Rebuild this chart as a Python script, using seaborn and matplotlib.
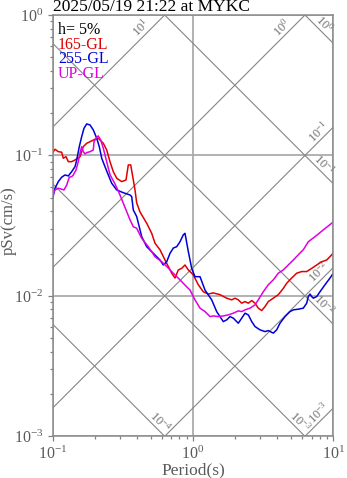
import numpy as np
import pandas as pd
import matplotlib
matplotlib.use("Agg")
import matplotlib.pyplot as plt
from matplotlib.ticker import LogLocator, NullFormatter
import seaborn as sns

# ---- response spectra (pseudo velocity, h = 5 %) ----
period_165 = [0.100, 0.1038, 0.1096, 0.1159, 0.1190, 0.1244, 0.1292, 0.1366, 0.1442, 0.1565,
              0.1652, 0.1747, 0.1845, 0.2002, 0.2113, 0.2294, 0.2426, 0.2560, 0.2703, 0.2858,
              0.3102, 0.3330, 0.3458, 0.3597, 0.3754, 0.3860, 0.3969, 0.4190, 0.4677, 0.5077,
              0.5360, 0.5818, 0.6316, 0.6667, 0.7050, 0.7443, 0.7856, 0.8306, 0.8770, 0.9258,
              0.9788, 1.005, 1.091, 1.184, 1.285, 1.395, 1.557, 1.739, 1.887, 1.993,
              2.103, 2.224, 2.348, 2.479, 2.622, 2.766, 2.920, 3.088, 3.260, 3.441,
              3.736, 4.055, 4.401, 4.654, 5.051, 5.483, 5.952, 6.462, 7.015, 7.615,
              8.265, 8.974, 9.741, 10.0]
psv_165 = [0.1047, 0.1107, 0.1064, 0.1054, 0.0955, 0.0980, 0.0903, 0.0903, 0.0929, 0.0980,
           0.1155, 0.1221, 0.1253, 0.1304, 0.1326, 0.1221, 0.1094, 0.0903, 0.0767, 0.0688,
           0.0651, 0.0669, 0.0856, 0.0856, 0.0669, 0.0568, 0.0459, 0.0396, 0.0329, 0.0279,
           0.0237, 0.0213, 0.0180, 0.0162, 0.0145, 0.0134, 0.0153, 0.0157, 0.0166, 0.0153,
           0.0145, 0.0141, 0.0120, 0.0107, 0.0103, 0.0105, 0.0102, 0.00963, 0.00937, 0.00963,
           0.00937, 0.00887, 0.00911, 0.00887, 0.00926, 0.00887, 0.00818, 0.00786, 0.00839, 0.00911,
           0.00963, 0.0102, 0.0113, 0.0123, 0.0134, 0.0145, 0.0149, 0.0149, 0.0157, 0.0166,
           0.0175, 0.0180, 0.0196, 0.0202]

period_255 = [0.100, 0.1038, 0.1096, 0.1159, 0.1224, 0.1292, 0.1366, 0.1442, 0.1483, 0.1547,
              0.1609, 0.1671, 0.1747, 0.1845, 0.1947, 0.2059, 0.2148, 0.2235, 0.2359, 0.2490,
              0.2633, 0.2858, 0.3185, 0.3556, 0.3656, 0.3754, 0.3969, 0.4309, 0.4677, 0.5212,
              0.5818, 0.6142, 0.6494, 0.6857, 0.7238, 0.7653, 0.8078, 0.8528, 0.8770, 0.9258,
              0.9788, 1.033, 1.122, 1.218, 1.359, 1.475, 1.644, 1.739, 1.836, 1.938,
              2.049, 2.103, 2.224, 2.348, 2.479, 2.622, 2.766, 3.003, 3.260, 3.441,
              3.736, 3.949, 4.170, 4.526, 4.912, 5.186, 5.629, 6.112, 6.462, 6.634,
              6.823, 7.015, 7.202, 7.615, 8.038, 8.725, 9.474, 10.0]
psv_255 = [0.0496, 0.0584, 0.0651, 0.0700, 0.0726, 0.0715, 0.0767, 0.0832, 0.0929, 0.1155,
           0.1361, 0.1562, 0.1676, 0.1649, 0.1519, 0.1326, 0.1155, 0.0955, 0.0832, 0.0726,
           0.0634, 0.0568, 0.0543, 0.0523, 0.0509, 0.0409, 0.0367, 0.0264, 0.0224, 0.0201,
           0.0180, 0.0166, 0.0175, 0.0201, 0.0219, 0.0224, 0.0243, 0.0272, 0.0279, 0.0207,
           0.0157, 0.0137, 0.0137, 0.0110, 0.00937, 0.00773, 0.00656, 0.00675, 0.00712, 0.00694,
           0.00656, 0.00639, 0.00694, 0.00753, 0.00732, 0.00656, 0.00605, 0.00573, 0.00557, 0.00566,
           0.00543, 0.00573, 0.00639, 0.00712, 0.00773, 0.00795, 0.00804, 0.00818, 0.00887, 0.00989,
           0.0103, 0.00989, 0.00963, 0.00989, 0.0107, 0.0120, 0.0134, 0.0145]

period_up = [0.100, 0.1038, 0.1096, 0.1159, 0.1204, 0.1259, 0.1313, 0.1366, 0.1402, 0.1466,
             0.1522, 0.1565, 0.1609, 0.1652, 0.1699, 0.1747, 0.1845, 0.1947, 0.1970, 0.2059,
             0.2113, 0.2198, 0.2294, 0.2426, 0.2560, 0.2780, 0.3017, 0.3185, 0.3369, 0.3556,
             0.3754, 0.3969, 0.4309, 0.4801, 0.5360, 0.5983, 0.6494, 0.7238, 0.8078, 0.9018,
             0.9519, 1.033, 1.122, 1.218, 1.322, 1.395, 1.515, 1.644, 1.785, 1.938,
             2.103, 2.224, 2.348, 2.550, 2.766, 2.920, 3.170, 3.441, 3.736, 4.055,
             4.401, 4.778, 5.186, 5.629, 6.112, 6.634, 7.406, 8.485, 9.741, 10.0]
psv_up = [0.0523, 0.0568, 0.0584, 0.0575, 0.0568, 0.0617, 0.0700, 0.0707, 0.0726, 0.0788,
          0.0903, 0.1037, 0.1155, 0.1064, 0.1025, 0.1047, 0.1064, 0.1094, 0.1253, 0.1348,
          0.1376, 0.1289, 0.1125, 0.0903, 0.0730, 0.0627, 0.0523, 0.0457, 0.0398, 0.0348,
          0.0311, 0.0303, 0.0257, 0.0224, 0.0190, 0.0175, 0.0162, 0.0145, 0.0130, 0.0116,
          0.0110, 0.00937, 0.00818, 0.00773, 0.00712, 0.00720, 0.00712, 0.00720, 0.00732, 0.00753,
          0.00782, 0.00773, 0.00795, 0.00818, 0.00863, 0.00937, 0.0107, 0.0120, 0.0130, 0.0145,
          0.0153, 0.0166, 0.0180, 0.0196, 0.0213, 0.0243, 0.0264, 0.0295, 0.0329, 0.0336]

components = ["165-GL", "255-GL", "UP-GL"]
colors = ["#e00000", "#0000d8", "#e000e0"]
damping_text = "h= 5%"
title_text = "2025/05/19 21:22 at MYKC"

# tripartite guide lines: acceleration (cm/s^2) and displacement (cm)
accel_levels = [1e-3, 1e-2, 1e-1, 1e0, 1e1]
disp_levels = [1e-4, 1e-3, 1e-2, 1e-1, 1e0]

# ---- style ----
sns.set_style("ticks")
plt.rcParams["font.family"] = ["Liberation Serif", "DejaVu Serif"]
plt.rcParams["mathtext.fontset"] = "custom"
plt.rcParams["mathtext.rm"] = "Liberation Serif"
plt.rcParams["mathtext.it"] = "Liberation Serif:italic"
plt.rcParams["axes.unicode_minus"] = False

fig = plt.figure(figsize=(3.47, 4.78), dpi=100)
ax = fig.add_axes([0.1519, 0.0872, 0.8086, 0.8814])

df = pd.concat([
    pd.DataFrame({"period": period_165, "psv": psv_165, "component": components[0]}),
    pd.DataFrame({"period": period_255, "psv": psv_255, "component": components[1]}),
    pd.DataFrame({"period": period_up, "psv": psv_up, "component": components[2]}),
], ignore_index=True)

sns.lineplot(data=df, x="period", y="psv", hue="component", hue_order=components,
             palette=colors, estimator=None, sort=False, legend=False,
             linewidth=1.1, ax=ax, zorder=5)

ax.set_xscale("log")
ax.set_yscale("log")
ax.set_xlim(0.1, 10)
ax.set_ylim(1e-3, 1)

ax.grid(True, which="major", color="#ababab", linewidth=1.3)
ax.set_axisbelow(True)

grid_col = "#858585"
lab_col = "#707070"
tt = np.array([0.1, 10.0])
twopi = 2 * np.pi
u0, u1, v0, v1 = -1.0, 1.0, -3.0, 0.0

for a in accel_levels:
    ax.plot(tt, a * tt / twopi, color=grid_col, lw=0.8, zorder=2)
    c = np.log10(a / twopi)
    if u1 + c <= v1:
        ue, ve, d = u1, u1 + c, 0.07
    else:
        ue, ve, d = v1 - c, v1, 0.13
    ax.text(10 ** (ue - d), 10 ** (ve - d), r"$10^{%d}$" % round(np.log10(a)),
            rotation=45, rotation_mode="anchor", ha="center", va="bottom",
            fontsize=9, color=lab_col, zorder=3)

for dd in disp_levels:
    ax.plot(tt, twopi * dd / tt, color=grid_col, lw=0.8, zorder=2)
    c = np.log10(twopi * dd)
    if c - u1 >= v0:
        ue, ve, d = u1, c - u1, 0.1
    else:
        ue, ve, d = c - v0, v0, 0.07
    ax.text(10 ** (ue - d), 10 ** (ve + d), r"$10^{%d}$" % round(np.log10(dd)),
            rotation=-45, rotation_mode="anchor", ha="center", va="bottom",
            fontsize=9, color=lab_col, zorder=3)

# ---- axes decoration ----
for s in ax.spines.values():
    s.set_color("#8a8a8a")
    s.set_linewidth(1.1)
    s.set_zorder(6)

ax.xaxis.set_minor_locator(LogLocator(base=10, subs=np.arange(2, 10), numticks=20))
ax.yaxis.set_minor_locator(LogLocator(base=10, subs=np.arange(2, 10), numticks=20))
ax.xaxis.set_minor_formatter(NullFormatter())
ax.yaxis.set_minor_formatter(NullFormatter())
ax.tick_params(which="both", direction="out", color="#808080", width=0.9,
               top=False, right=False, labelcolor="#5a5a5a", labelsize=11.5)
ax.tick_params(which="major", length=3.5, pad=3)
ax.tick_params(which="minor", length=2.5)

ax.set_xlabel("Period(s)", fontsize=12.5, color="#5a5a5a")
ax.set_ylabel("pSv(cm/s)", fontsize=12, color="#5a5a5a")
ax.xaxis.set_label_coords(0.5, -0.062)
ax.yaxis.set_label_coords(-0.128, 0.511)

W, H = 347.0, 478.0
fig.text(53 / W, 1 - 11 / H, title_text, fontsize=12.5, color="black",
         ha="left", va="baseline")

legend_rows = [(damping_text, "black")] + list(zip(components, colors))
for i, (txt, col) in enumerate(legend_rows):
    fig.text(58 / W, 1 - (34 + 14.6 * i) / H, txt, fontsize=11.5, color=col,
             ha="left", va="baseline", zorder=10)

fig.savefig("out.png", dpi=100)
